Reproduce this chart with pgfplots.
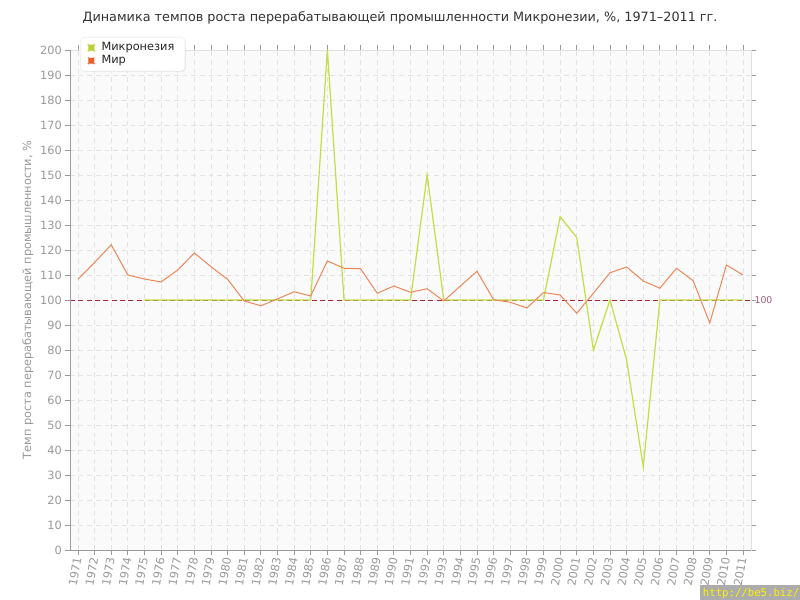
\documentclass[border=0pt]{standalone}
\usepackage{fontspec}
\setmainfont{DejaVu Sans}
\newfontfamily\monofont{DejaVu Sans Mono}
\usepackage{pgfplots}
\pgfplotsset{compat=1.18}
\usetikzlibrary{shadows}
\definecolor{micro}{HTML}{C2DE45}
\definecolor{mir}{HTML}{EB8758}
\definecolor{microleg}{HTML}{B5D334}
\definecolor{mirleg}{HTML}{E8602C}
\definecolor{refl}{HTML}{A8223E}
\definecolor{refltxt}{HTML}{A05A70}
\definecolor{tickc}{HTML}{999999}
\definecolor{gridc}{HTML}{E2E2E2}
\definecolor{bgc}{HTML}{FAFAFA}
\begin{document}
\begin{tikzpicture}
\path[use as bounding box, fill=white] (0,0) rectangle (600pt,450pt);
\node[font=\fontsize{9.6}{12}\selectfont, text=black!80] at (300pt,436.5pt) {Динамика темпов роста перерабатывающей промышленности Микронезии, \%, 1971–2011 гг.};
\begin{axis}[
  at={(52.5pt,37.5pt)}, anchor=south west,
  scale only axis, width=510.75pt, height=375pt,
  xmin=1970.52, xmax=2011.48, ymin=0, ymax=200,
  xtick={1971,...,2011}, ytick={0,10,...,200},
  /pgf/number format/1000 sep={},
  /pgf/number format/assume math mode=true,
  tick align=outside, major tick length=4pt,
  tick style={draw=tickc, line width=0.6pt},
  xticklabel style={rotate=80, anchor=east, font=\fontsize{8.5}{10}\selectfont, text=tickc, inner sep=1.5pt},
  yticklabel style={font=\fontsize{8.5}{10}\selectfont, text=tickc, inner sep=2pt},
  grid=major, major grid style={draw=gridc, dash pattern=on 3.5pt off 3pt, line width=0.6pt},
  axis background/.style={fill=bgc},
  axis line style={draw=gray!25, line width=0.6pt},
  ylabel={Темп роста перерабатывающей промышленности, \%},
  ylabel style={at={(axis description cs:-0.0617,0.5)}, anchor=center, font=\fontsize{8.5}{10}\selectfont, text=tickc},
  clip=false,
  legend style={at={(rel axis cs:0,1)}, anchor=north west, xshift=7.5pt, yshift=9.75pt,
    draw=gray!15, fill=white, rounded corners=3pt, drop shadow={opacity=0.15, shadow xshift=0.6pt, shadow yshift=-0.6pt},
    font=\fontsize{8.5}{10}\selectfont, text=black!85, row sep=-2pt, column sep=3.5pt, inner xsep=6pt, inner ysep=2pt},
  legend cell align=left,
]
\addplot[color=refl, dash pattern=on 3.75pt off 2.5pt, line width=0.7pt, forget plot] coordinates {(1970.52,100) (2011.6,100)};
\addplot[color=micro, line width=0.9pt, legend image code/.code={\fill[microleg] (0pt,-1.8pt) rectangle (3.6pt,1.8pt);}] coordinates {
(1975,100) (1976,100) (1977,100) (1978,100) (1979,100) (1980,100) (1981,100) (1982,100) (1983,100) (1984,100) (1985,100)
(1986,200) (1987,100) (1988,100) (1989,100) (1990,100) (1991,100) (1992,150) (1993,100) (1994,100) (1995,100) (1996,100)
(1997,100) (1998,100) (1999,100) (2000,133.3) (2001,125) (2002,80) (2003,100) (2004,76) (2005,33.3) (2006,100) (2007,100)
(2008,100) (2009,100) (2010,100) (2011,100)};
\addlegendentry{Микронезия}
\addplot[color=mir, line width=0.75pt, legend image code/.code={\fill[mirleg] (0pt,-1.8pt) rectangle (3.6pt,1.8pt);}] coordinates {
(1971,108.3) (1972,115) (1973,122.1) (1974,110) (1975,108.4) (1976,107.2) (1977,112) (1978,118.8) (1979,113.3) (1980,108.3)
(1981,99.6) (1982,97.7) (1983,100.4) (1984,103.3) (1985,101.6) (1986,115.6) (1987,112.7) (1988,112.5) (1989,102.7) (1990,105.6)
(1991,103.1) (1992,104.5) (1993,99.6) (1994,105.6) (1995,111.5) (1996,100.1) (1997,99.1) (1998,96.8) (1999,103) (2000,102)
(2001,94.7) (2002,102.7) (2003,110.9) (2004,113.2) (2005,107.6) (2006,104.7) (2007,112.7) (2008,107.7) (2009,90.8) (2010,114)
(2011,110)};
\addlegendentry{Мир}
\node[anchor=west, font=\fontsize{7}{8}\selectfont, text=refltxt, inner sep=1pt] at (axis cs:2011.6,100) {100};
\draw[draw=tickc, line width=0.6pt] (rel axis cs:0,1) -- (rel axis cs:0,0) -- (rel axis cs:1,0);
\end{axis}
\fill[gray!65] (525pt,0) rectangle (600pt,11.5pt);
\node[anchor=base west, font=\monofont\fontsize{8}{9}\selectfont, text=yellow, inner sep=0pt] at (527pt,2.5pt) {http://be5.biz/};
\end{tikzpicture}
\end{document}
